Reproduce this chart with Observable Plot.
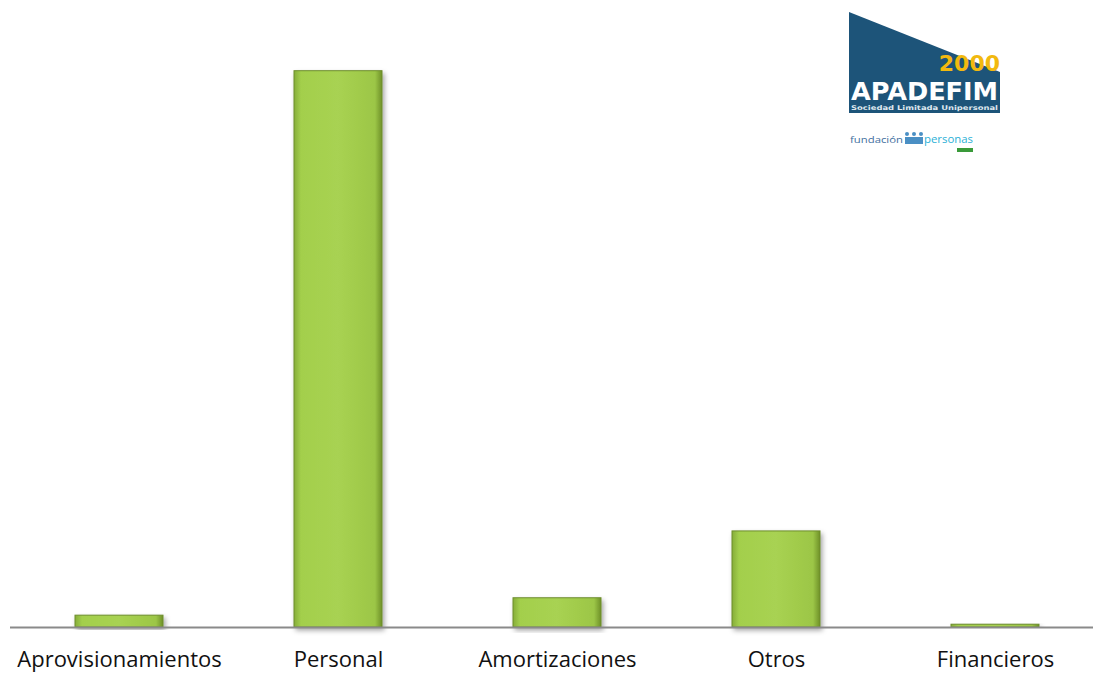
<!DOCTYPE html>
<html>
<head>
<meta charset="utf-8">
<script src="https://cdn.jsdelivr.net/npm/d3@7"></script>
<script src="https://cdn.jsdelivr.net/npm/@observablehq/plot@0.6"></script>
<style>
  html, body { margin: 0; padding: 0; background: #fff; }
  #wrap { position: relative; width: 1093px; height: 674px; overflow: hidden; }
  #logo { position: absolute; left: 0; top: 0; }
</style>
</head>
<body>
<div id="wrap"></div>
<script>
const categories = ["Aprovisionamientos", "Personal", "Amortizaciones", "Otros", "Financieros"];
const values = [1.7, 79.9, 4.2, 13.8, 0.4];

const data = categories.map((c, i) => ({category: c, value: values[i]}));

const chart = Plot.plot({
  width: 1093,
  height: 674,
  marginTop: 70,
  marginBottom: 47,
  marginLeft: 10,
  marginRight: 0,
  style: {fontFamily: "'Open Sans', sans-serif", fontSize: "22px", color: "#111", background: "#fff"},
  x: {domain: categories, range: [9, 1104], paddingInner: 0.6, paddingOuter: 0.3, label: null, tickSize: 0, tickPadding: 24},
  y: {domain: [0, 80], axis: null},
  marks: [
    Plot.barY(data, {x: "category", y: "value", fill: "url(#barGrad)", stroke: "#6d8d2c", strokeWidth: 1}),
    Plot.ruleY([0], {stroke: "#8a8a8a", strokeWidth: 2})
  ]
});

const ns = "http://www.w3.org/2000/svg";
const defs = document.createElementNS(ns, "defs");
defs.innerHTML = `
  <linearGradient id="barGrad" x1="0" y1="0" x2="1" y2="0">
    <stop offset="0" stop-color="#86ad3a"/>
    <stop offset="0.08" stop-color="#a3cf4c"/>
    <stop offset="0.5" stop-color="#a8d252"/>
    <stop offset="0.92" stop-color="#9cc646"/>
    <stop offset="1" stop-color="#6f9129"/>
  </linearGradient>
  <filter id="shadow" x="-10%" y="-10%" width="130%" height="130%">
    <feDropShadow dx="2" dy="3" stdDeviation="2.5" flood-color="#000" flood-opacity="0.35"/>
  </filter>`;
chart.insertBefore(defs, chart.firstChild);
chart.querySelectorAll("rect").forEach(r => r.setAttribute("filter", "url(#shadow)"));
document.getElementById("wrap").appendChild(chart);

const logo = document.createElementNS(ns, "svg");
logo.setAttribute("id", "logo");
logo.setAttribute("width", 1093);
logo.setAttribute("height", 200);
logo.innerHTML = `
  <polygon points="849,12 1000,72 1000,113 849,113" fill="#1d5479"/>
  <text x="1000" y="71" text-anchor="end" fill="#f2b90f" font-family="'DejaVu Sans', sans-serif" font-weight="bold" font-size="22">2000</text>
  <text x="851" y="100" fill="#fff" font-family="'DejaVu Sans', sans-serif" font-weight="bold" font-size="25" textLength="147" lengthAdjust="spacingAndGlyphs">APADEFIM</text>
  <text x="851" y="110" fill="#dfe8ef" font-family="'DejaVu Sans', sans-serif" font-weight="bold" font-size="6.5" textLength="147" lengthAdjust="spacingAndGlyphs">Sociedad Limitada Unipersonal</text>
  <text x="850" y="143" fill="#3f6fa0" font-family="'Open Sans', sans-serif" font-size="9" textLength="53" lengthAdjust="spacingAndGlyphs">fundación</text>
  <circle cx="907" cy="134" r="2" fill="#4a8fc4"/><circle cx="914" cy="134" r="2" fill="#4a8fc4"/><circle cx="921" cy="134" r="2" fill="#4a8fc4"/>
  <rect x="905" y="137" width="18" height="7" fill="#4a8fc4"/>
  <text x="924" y="143" fill="#2bb0d6" font-family="'Open Sans', sans-serif" font-size="10" textLength="49" lengthAdjust="spacingAndGlyphs">personas</text>
  <rect x="957" y="148" width="16" height="4" fill="#3a9a3a"/>
`;
document.getElementById("wrap").appendChild(logo);
</script>
</body>
</html>
